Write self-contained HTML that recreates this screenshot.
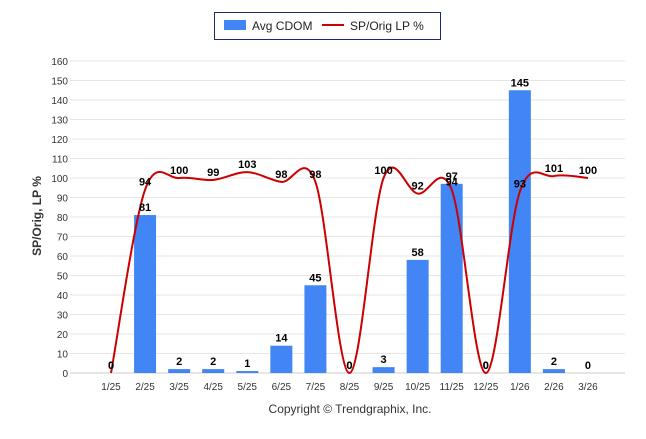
<!DOCTYPE html>
<html><head><meta charset="utf-8"><style>
body{margin:0;background:#fff;font-family:"Liberation Sans",sans-serif}
svg text{font-family:"Liberation Sans",sans-serif}
</style></head><body>
<svg id="c" width="646" height="434" xmlns="http://www.w3.org/2000/svg">
<g>
<rect x="214.5" y="12.5" width="226" height="27" fill="#fff" stroke="#1a2a6c" stroke-width="1"/>
<rect x="224" y="20" width="22" height="10" fill="#4285f4"/>
<text x="252" y="30" font-size="12" fill="#222">Avg CDOM</text>
<line x1="322" y1="25" x2="344" y2="25" stroke="#cc0000" stroke-width="2"/>
<text x="350" y="30" font-size="12" fill="#222">SP/Orig LP %</text>
</g>
<text transform="translate(41,216) rotate(-90)" text-anchor="middle" font-size="12" font-weight="bold" fill="#333">SP/Orig, LP %</text>
<g id="grid"></g><g id="bars"></g><g id="line"></g><g id="labels"></g>
<text x="350" y="413" text-anchor="middle" font-size="12" fill="#333">Copyright © Trendgraphix, Inc.</text>
</svg>
<script>
const categories=["1/25","2/25","3/25","4/25","5/25","6/25","7/25","8/25","9/25","10/25","11/25","12/25","1/26","2/26","3/26"];
const cdom=[0,81,2,2,1,14,45,0,3,58,97,0,145,2,0];
const spOrig=[0,94,100,99,103,98,98,0,100,92,94,0,93,101,100];
const yTicks=[0,10,20,30,40,50,60,70,80,90,100,110,120,130,140,150,160];
const NS="http://www.w3.org/2000/svg";
const x=i=>111+i*34.07, y=v=>373-v*1.95;
function mk(t,a,p){const e=document.createElementNS(NS,t);for(const k in a)e.setAttribute(k,a[k]);p.appendChild(e);return e;}
const G=document.getElementById('grid'),B=document.getElementById('bars'),L=document.getElementById('line'),T=document.getElementById('labels');
yTicks.forEach(v=>{
 const l=mk('line',{x1:70,x2:625,y1:y(v),y2:y(v),stroke:v===0?'#ccc':'#e6e6e6','stroke-width':1},G);
 
 
 const t=mk('text',{x:68,y:y(v)+4,'text-anchor':'end','font-size':10,fill:'#333'},G);t.textContent=v;
 
 
});
categories.forEach((c,i)=>{
 const t=mk('text',{x:x(i),y:390,'text-anchor':'middle','font-size':10,fill:'#333'},G);t.textContent=c;
 
 
});
cdom.forEach((v,i)=>{
 const r=mk('rect',{x:x(i)-11,y:y(v),width:22,height:v*1.95,fill:'#4285f4'},B);
 
 
 const t=mk('text',{x:x(i),y:y(v)-4,'text-anchor':'middle','font-size':11,'font-weight':'bold',fill:'#000'},T);t.textContent=v;
 
 
});
const P=spOrig.map((v,i)=>[x(i),y(v)]);
let d='M'+P[0][0]+','+P[0][1];
for(let i=0;i<P.length-1;i++){
 const p0=P[Math.max(0,i-1)],p1=P[i],p2=P[i+1],p3=P[Math.min(P.length-1,i+2)];
 const c1=[p1[0]+(p2[0]-p0[0])/6,p1[1]+(p2[1]-p0[1])/6],c2=[p2[0]-(p3[0]-p1[0])/6,p2[1]-(p3[1]-p1[1])/6];
 d+=` C${c1[0]},${c1[1]} ${c2[0]},${c2[1]} ${p2[0]},${p2[1]}`;
}
const pl=mk('path',{d:d,fill:'none',stroke:'#cc0000','stroke-width':2},L);


spOrig.forEach((v,i)=>{
 const t=mk('text',{x:x(i),y:y(v)-4,'text-anchor':'middle','font-size':11,'font-weight':'bold',fill:'#000'},T);t.textContent=v;
 
 
});
</script>
</body></html>
